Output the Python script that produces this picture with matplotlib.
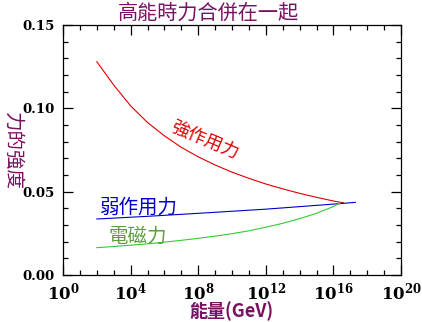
import matplotlib
matplotlib.use("Agg")
import matplotlib.pyplot as plt
import numpy as np
from matplotlib.ticker import FixedLocator, MultipleLocator, FuncFormatter

plt.rcParams['font.family'] = ['Noto Sans CJK TC', 'DejaVu Sans']
plt.rcParams['mathtext.fontset'] = 'dejavuserif'

# log10(Energy / GeV) and coupling strength
strong_logE = [2.0, 3.0, 4.0, 5.0, 6.0, 7.0, 8.0, 9.0, 10.0, 11.0, 12.0, 13.0, 14.0, 15.0, 16.0, 16.6]
strong_val = [0.128, 0.114, 0.1015, 0.0915, 0.0835, 0.0766, 0.0709, 0.0660, 0.0617, 0.0580,
              0.0546, 0.0517, 0.0490, 0.0466, 0.0444, 0.0433]
weak_logE = [2.0, 5.0, 8.0, 12.0, 16.6, 17.3]
weak_val = [0.0336, 0.0352, 0.0370, 0.0395, 0.0430, 0.0436]
em_logE = [2.0, 3.0, 4.0, 5.0, 6.0, 7.0, 8.0, 9.0, 10.0, 11.0, 12.0, 13.0, 14.0, 15.0, 16.0, 16.4]
em_val = [0.0164, 0.0171, 0.0179, 0.0187, 0.0197, 0.0208, 0.0220, 0.0233, 0.0248, 0.0265,
          0.0287, 0.0310, 0.0338, 0.0370, 0.0411, 0.0432]

xtick_exps = [0, 4, 8, 12, 16, 20]
ytick_vals = [0.00, 0.05, 0.10, 0.15]

title = "高能時力合併在一起"
xlabel = "能量(GeV)"
ylabel = "力的強度"
lab_strong = "強作用力"
lab_weak = "弱作用力"
lab_em = "電磁力"

purple = "#7a1060"

fig = plt.figure(figsize=(4.22, 3.22), dpi=100)
ax = fig.add_axes([63/422, 47/322, (401-63)/422, (275-25)/322])

ax.plot(10.0**np.array(strong_logE), strong_val, color="#dd0000", lw=0.8)
ax.plot(10.0**np.array(weak_logE), weak_val, color="#0000c8", lw=0.8)
ax.plot(10.0**np.array(em_logE), em_val, color="#33cc33", lw=0.8)

ax.set_xscale('log')
ax.set_xlim(1, 1e20)
ax.set_ylim(0, 0.15)

ax.xaxis.set_major_locator(FixedLocator([10.0**e for e in xtick_exps]))
ax.xaxis.set_minor_locator(FixedLocator([10.0**e for e in range(0, 21) if e not in xtick_exps]))
ax.xaxis.set_major_formatter(FuncFormatter(lambda v, p: r"$\mathbf{10^{%d}}$" % int(round(np.log10(v)))))
ax.xaxis.set_minor_formatter(FuncFormatter(lambda v, p: ""))
ax.set_yticks(ytick_vals)
ax.yaxis.set_minor_locator(MultipleLocator(0.01))
ax.set_yticklabels(["%.2f" % v for v in ytick_vals], family='DejaVu Serif', fontweight='bold')

for s in ax.spines.values():
    s.set_linewidth(0.9)
ax.tick_params(which='both', direction='in', top=True, right=True, colors='black')
ax.tick_params(which='major', length=7.5, width=0.9)
ax.tick_params(which='minor', length=3.7, width=0.9)
ax.tick_params(axis='x', which='major', labelsize=12, pad=5)
ax.tick_params(axis='y', which='major', labelsize=9.5, pad=6)

fig.text(208/422, 1 - 13/322, title, color=purple, fontsize=14.5, fontweight='medium',
         ha='center', va='center')
fig.text(231/422, 1 - 311/322, xlabel, color=purple, fontsize=13, fontweight='bold',
         ha='center', va='center')
fig.text(13/422, 1 - 151/322, ylabel, color=purple, fontsize=14, fontweight='medium',
         rotation=270, ha='center', va='center')

ax.text(10**8.4, 0.0810, lab_strong, color="#e00000", fontsize=13, rotation=-23,
        ha='center', va='center')
ax.text(10**4.5, 0.0408, lab_weak, color="#0000c8", fontsize=14,
        ha='center', va='center')
ax.text(10**4.41, 0.0234, lab_em, color="#5c9e3c", fontsize=14,
        ha='center', va='center')

fig.savefig("out.png", dpi=100)
